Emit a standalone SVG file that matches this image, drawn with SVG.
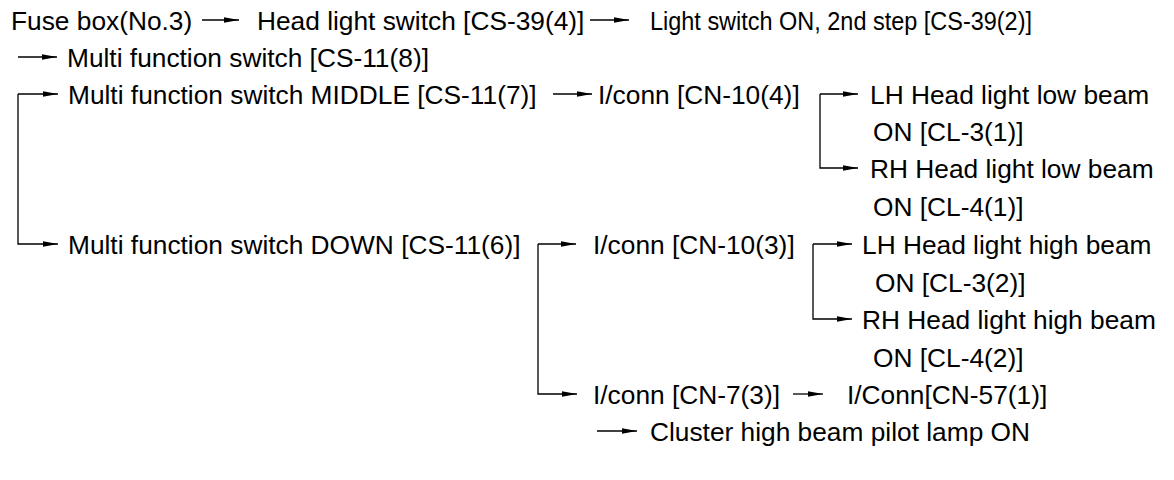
<svg xmlns="http://www.w3.org/2000/svg" width="1174" height="480" viewBox="0 0 1174 480">
<style>
text{font-family:"Liberation Sans",Arial,Helvetica,sans-serif;font-size:26.3px;fill:#000}
.c{fill:none;stroke:#000;stroke-width:1.3}
</style>
<defs>
<marker id="ah" markerUnits="userSpaceOnUse" markerWidth="16" markerHeight="8" refX="15" refY="3.5" orient="auto">
<path d="M0,0.7 L15,3.5 L0,6.3 Z" fill="#000"/>
</marker>
</defs>
<rect width="1174" height="480" fill="#fff"/>
<g id="connectors" class="c" marker-end="url(#ah)">
<path d="M202 20 H239"/>
<path d="M590 20 H629"/>
<path d="M18 57 H57"/>
<path d="M18 94 H58"/>
<path d="M18 94 V244 H58"/>
<path d="M553 94 H592"/>
<path d="M820 94 H858"/>
<path d="M820 94 V168 H858"/>
<path d="M538 244 H576"/>
<path d="M538 244 V394 H577"/>
<path d="M813 244 H852"/>
<path d="M813 244 V319 H852"/>
<path d="M793 394 H823"/>
<path d="M597 431 H637"/>
</g>
<g id="n-fuse"><text x="11" y="29.5">Fuse box(No.3)</text></g>
<g id="n-headsw"><text x="257" y="29.5">Head light switch [CS-39(4)]</text></g>
<g id="n-lightsw"><text x="650" y="29.5" textLength="382" lengthAdjust="spacingAndGlyphs">Light switch ON, 2nd step [CS-39(2)]</text></g>
<g id="n-mfs"><text x="67" y="66.5">Multi function switch [CS-11(8)]</text></g>
<g id="n-mfs-mid"><text x="68" y="103.5">Multi function switch MIDDLE [CS-11(7)]</text></g>
<g id="n-cn10-4"><text x="598" y="103.5">I/conn [CN-10(4)]</text></g>
<g id="n-lh-low"><text x="870" y="103.5">LH Head light low beam</text><text x="873" y="140.5">ON [CL-3(1)]</text></g>
<g id="n-rh-low"><text x="870" y="177.5">RH Head light low beam</text><text x="873" y="215.5">ON [CL-4(1)]</text></g>
<g id="n-mfs-down"><text x="68" y="253.5">Multi function switch DOWN [CS-11(6)]</text></g>
<g id="n-cn10-3"><text x="593" y="253.5">I/conn [CN-10(3)]</text></g>
<g id="n-lh-high"><text x="862" y="253.5">LH Head light high beam</text><text x="875" y="291.5">ON [CL-3(2)]</text></g>
<g id="n-rh-high"><text x="862" y="328.5">RH Head light high beam</text><text x="873" y="366.5">ON [CL-4(2)]</text></g>
<g id="n-cn7-3"><text x="593" y="403.5">I/conn [CN-7(3)]</text></g>
<g id="n-cn57-1"><text x="847" y="403.5">I/Conn[CN-57(1)]</text></g>
<g id="n-cluster"><text x="650" y="440.5">Cluster high beam pilot lamp ON</text></g>
</svg>
